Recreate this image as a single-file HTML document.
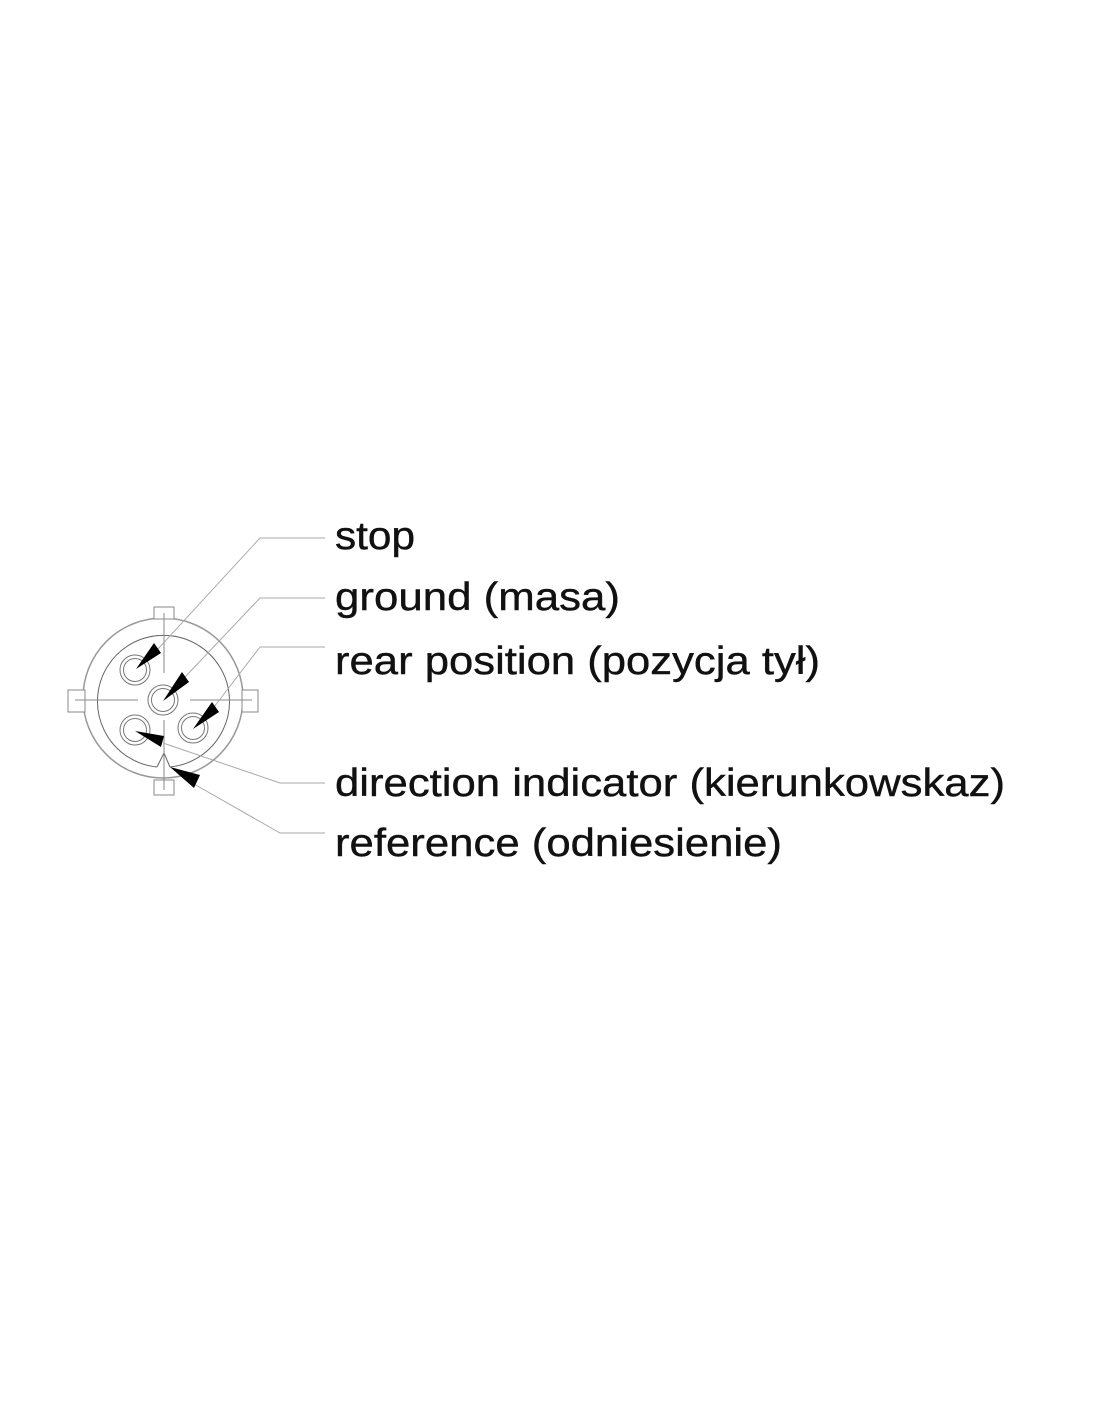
<!DOCTYPE html>
<html><head><meta charset="utf-8"><style>body{margin:0;background:#fff}</style></head>
<body>
<svg width="1100" height="1422" xmlns="http://www.w3.org/2000/svg">
<g fill="none" stroke="#888" stroke-width="1">
 <circle cx="163" cy="698" r="80" stroke="#999" stroke-width="1.5"/>
 <path d="M157 767 L164 753 L170 767" stroke="#666"/>
 <path d="M157 767 A66 66 0 1 1 170 767" stroke="#666"/>
 <rect x="154" y="607" width="20" height="12" fill="#fff"/>
 <rect x="154" y="780" width="20" height="15" fill="#fff"/>
 <rect x="68" y="690" width="17" height="22" fill="#fff"/>
 <rect x="242" y="690" width="16" height="22" fill="#fff"/>
 <line x1="164" y1="613" x2="164" y2="673"/>
 <line x1="164" y1="720" x2="164" y2="790"/>
 <line x1="75" y1="700" x2="138" y2="700"/>
 <line x1="190" y1="700" x2="252" y2="700"/>
 <g stroke="#777">
 <circle cx="135" cy="670" r="15"/><circle cx="135" cy="670" r="11.5"/>
 <circle cx="163" cy="700" r="15"/><circle cx="163" cy="700" r="11.5"/>
 <circle cx="135" cy="730" r="15"/><circle cx="135" cy="730" r="11.5"/>
 <circle cx="193" cy="728" r="15"/><circle cx="193" cy="728" r="11.5"/>
 </g>
 <g stroke="#aaa">
 <polyline points="157,650 260,538 325,538"/>
 <polyline points="185,677 260,598 325,598"/>
 <polyline points="214,707 260,647 325,647"/>
 <polyline points="163,743 280,783 325,783"/>
 <polyline points="194,784 280,833 325,833"/>
 </g>
</g>
<g fill="#000">
 <polygon points="136,669 154,643 161,653"/>
 <polygon points="163,701 182,672 189,682"/>
 <polygon points="193,729 212,702 219,712"/>
 <polygon points="135,731 164,736 161,747"/>
 <polygon points="170,767 200,775 194,788"/>
</g>
<g font-family="Liberation Sans, sans-serif" font-size="39" fill="#111" stroke="#111" stroke-width="0.4">
 <text x="335" y="549" textLength="80" lengthAdjust="spacingAndGlyphs">stop</text>
 <text x="335" y="610" textLength="285" lengthAdjust="spacingAndGlyphs">ground (masa)</text>
 <text x="335" y="674" textLength="485" lengthAdjust="spacingAndGlyphs">rear position (pozycja tył)</text>
 <text x="335" y="796" textLength="670" lengthAdjust="spacingAndGlyphs">direction indicator (kierunkowskaz)</text>
 <text x="335" y="856" textLength="447" lengthAdjust="spacingAndGlyphs">reference (odniesienie)</text>
</g>
</svg>
</body></html>
